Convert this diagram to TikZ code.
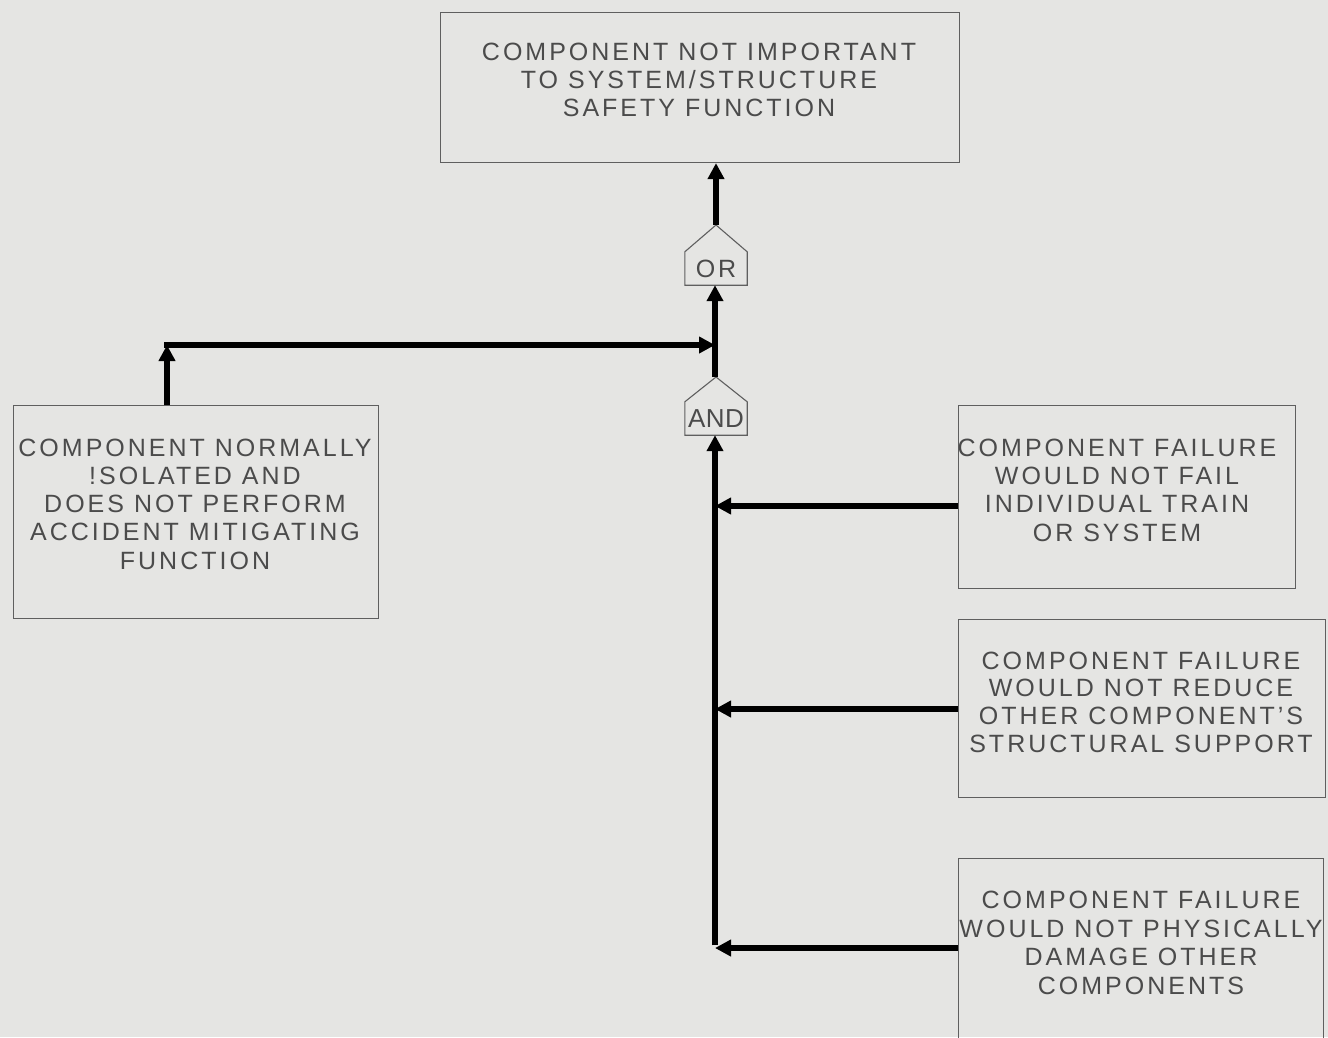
\documentclass[tikz,border=0pt]{standalone}
\usepackage{fontspec}
\setmainfont{Liberation Sans}[LetterSpace=12]
\usetikzlibrary{arrows.meta,calc}
\definecolor{bgc}{RGB}{229,229,227}
\definecolor{txt}{RGB}{75,75,75}
\definecolor{brd}{RGB}{95,95,95}
\tikzset{
  box/.style={draw=brd, line width=1.1pt, rectangle, inner sep=0pt, anchor=north west},
  boxtext/.style={text=txt, align=center},
  conn/.style={line width=5.5pt, -{Triangle[length=16pt,width=16pt]}},
  gatelbl/.style={minimum width=62pt, minimum height=33pt, inner sep=0pt, text=txt},
  gateline/.style={draw=brd, line width=1.1pt, line join=miter}
}
\begin{document}
\begin{tikzpicture}[x=1pt,y=-1pt]
\fill[bgc] (0,0) rectangle (1328,1037);
\useasboundingbox (0,0) rectangle (1328,1037);
\clip (0,0) rectangle (1328,1037);

% boxes
\node[box, minimum width=519pt, minimum height=150pt] (top) at (440,12) {};
\node[boxtext, font=\fontsize{25}{28}\selectfont] (toptext) at (699,80) {COMPONENT NOT IMPORTANT\\TO SYSTEM/STRUCTURE\\SAFETY FUNCTION};

\node[box, minimum width=365pt, minimum height=213pt] (lb) at (13,405) {};
\node[boxtext, font=\fontsize{25}{28.3}\selectfont] (lbtext) at (195,504) {COMPONENT NORMALLY\\!SOLATED AND\\DOES NOT PERFORM\\ACCIDENT MITIGATING\\FUNCTION};

\node[box, minimum width=337pt, minimum height=183pt] (r1) at (958,405) {};
\node[boxtext, font=\fontsize{25}{28.3}\selectfont] (r1text) at (1117,490) {COMPONENT FAILURE\\WOULD NOT FAIL\\INDIVIDUAL TRAIN\\OR SYSTEM};

\node[box, minimum width=367pt, minimum height=178pt] (r2) at (958,619) {};
\node[boxtext, font=\fontsize{25}{27.7}\selectfont] (r2text) at (1141,702) {COMPONENT FAILURE\\WOULD NOT REDUCE\\OTHER COMPONENT'S\\STRUCTURAL SUPPORT};

\node[box, minimum width=365pt, minimum height=200pt] (r3) at (958,858) {};
\node[boxtext, font=\fontsize{25}{28.7}\selectfont] (r3text) at (1141,943) {COMPONENT FAILURE\\WOULD NOT PHYSICALLY\\DAMAGE OTHER\\COMPONENTS};

% gates
\node[gatelbl, font=\fontsize{25}{25}\selectfont] (or) at (716,268.5) {OR};
\coordinate (orapex) at (716,225);
\draw[gateline] (or.north west) -- (or.south west) -- (or.south east) -- (or.north east) -- (orapex) -- cycle;

\node[gatelbl, font=\fontsize{26}{26}\selectfont\addfontfeature{LetterSpace=2}] (and) at (716,418.5) {AND};
\coordinate (andapex) at (716,377);
\draw[gateline] (and.north west) -- (and.south west) -- (and.south east) -- (and.north east) -- (andapex) -- cycle;

% connectors
\coordinate (corner) at (167,345);
\coordinate (junc) at (715,345);
\coordinate (b1) at (715,506);
\coordinate (b2) at (715,709);
\coordinate (b3) at (715,948);

\draw[conn] (orapex) -- (top.south -| orapex);
\draw[conn] (andapex -| junc) -- (or.south -| junc);
\draw[conn] (lb.north -| corner) -- (corner);
\draw[conn] ([xshift=-2.75pt]corner) -- (junc);
\draw[conn] ([yshift=2.75pt]b3) -- (and.south -| b3);
\draw[conn] (r1.west |- b1) -- (b1);
\draw[conn] (r2.west |- b2) -- (b2);
\draw[conn] (r3.west |- b3) -- (b3);
\end{tikzpicture}
\end{document}
